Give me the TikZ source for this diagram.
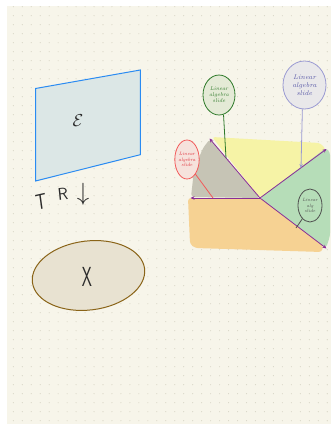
\documentclass[tikz,border=0pt]{standalone}
\usetikzlibrary{shapes.geometric,arrows.meta}
\definecolor{bg}{HTML}{F7F5EA}
\definecolor{dotc}{HTML}{D6D3C3}
\definecolor{paneblue}{HTML}{DCE7E6}
\definecolor{paneedge}{HTML}{2A8BF2}
\definecolor{ellfill}{HTML}{E8E2D1}
\definecolor{elledge}{HTML}{8A6418}
\definecolor{ink}{HTML}{2B2B2B}
\definecolor{orangep}{HTML}{F6D293}
\definecolor{grayp}{HTML}{C6C4B5}
\definecolor{yellowp}{HTML}{F6F3A6}
\definecolor{greenp}{HTML}{B6DDB8}
\definecolor{purp}{HTML}{8A2E96}
\definecolor{gdark}{HTML}{2F7A2A}
\definecolor{gfill}{HTML}{E4EAD6}
\definecolor{lav}{HTML}{9A9AD2}
\definecolor{lavtext}{HTML}{5A5AA8}
\definecolor{lavfill}{HTML}{E9E8EA}
\definecolor{redc}{HTML}{F25A5A}
\definecolor{redtext}{HTML}{E0303A}
\definecolor{redfill}{HTML}{F6E2DC}
\definecolor{kgrey}{HTML}{505050}
\tikzset{
  patch/.style={rounded corners=3pt},
  purparrow/.style={draw=purp, line width=0.8pt, -{Stealth[length=4pt,width=3.5pt]}},
  lbl/.style={ellipse, line width=0.8pt, inner sep=0pt, align=center,
              font=\fontsize{5.5}{6}\selectfont\itshape},
  hand/.style={text=ink, font=\sffamily},
}
\begin{document}
\begin{tikzpicture}[x=1pt,y=-1pt]
\useasboundingbox (0,0) rectangle (331,424);
\fill[white] (0,0) rectangle (331,424);
\fill[bg] (7,6) rectangle (331,424);
\foreach \i in {0,...,35}{
  \foreach \j in {0,...,46}{
    \fill[dotc] (13.3+8.97*\i, 6.7+9*\j) circle (0.55);
  }
}
% blue pane
\draw[draw=paneedge, fill=paneblue, line width=1pt] (35.5,88.5) -- (140.3,70) -- (140.3,154.7) -- (35.5,181) -- cycle;
\node[text=ink, font=\fontsize{19}{21}\selectfont] (E) at (78,121) {$\mathcal{E}$};
% T R arrow
\node[hand, font=\sffamily\fontsize{19}{21}\selectfont, xscale=0.9, yscale=1.15, rotate=10] (T) at (41,201.5) {T};
\node[hand, font=\sffamily\fontsize{17}{19}\selectfont, rotate=6] (R) at (63,194) {R};
\node[text=ink, font=\fontsize{30}{32}\selectfont] (D) at (83,194) {$\downarrow$};
% ellipse X
\node[ellipse, draw=elledge, fill=ellfill, line width=1pt, minimum width=113, minimum height=69, rotate=7] (X) at (88.5,275.5) {};
\node[hand, font=\sffamily\fontsize{19}{21}\selectfont, xscale=0.85, yscale=1.45] (Xt) at (87,277) {X};
% coloured patches
\fill[orangep, patch] (188,198) -- (260,198) -- (323,245) -- (322,252) -- (195,248) -- (190,244) -- cycle;
\fill[grayp, patch] (210,139) -- (260,198) -- (191,197) -- (194,170) -- (203,148) -- cycle;
\fill[yellowp, patch] (212,137) -- (320,143) -- (326,149) -- (260,198) -- cycle;
\fill[greenp, patch] (260,198) -- (326,148) -- (330,152) -- (330,236) -- (326,248) -- cycle;
% purple arrows
\coordinate (C) at (260,198);
\coordinate (P1) at (209.5,138.5);
\coordinate (P2) at (190.5,198);
\coordinate (P3) at (326.5,149);
\coordinate (P4) at (326.5,248.5);
\draw[purparrow] (C) -- (P1);
\draw[purparrow] (C) -- (P2);
\draw[purparrow] (C) -- (P3);
\draw[purparrow] (C) -- (P4);
% labels
\node[lbl, draw=gdark, fill=gfill, text=gdark, minimum width=32, minimum height=40] (g) at (219,95) {Linear\\algebra\\slide};
\coordinate (gEnd) at (226,158);
\draw[gdark, line width=0.8pt] (g.283) -- (gEnd);
\node[lbl, draw=lav, fill=lavfill, text=lavtext, minimum width=43, minimum height=48, font=\fontsize{6.8}{8}\selectfont\itshape] (l) at (304.5,85) {Linear\\algebra\\slide};
\coordinate (lEnd) at (301,168);
\draw[lav, line width=0.8pt, -{Stealth[length=4pt,width=3.5pt]}] (l.265) -- (lEnd);
\node[lbl, draw=redc, fill=redfill, text=redtext, minimum width=24, minimum height=39, font=\fontsize{4.8}{5.6}\selectfont\itshape] (r) at (187,159.5) {Linear\\algebra\\slide};
\coordinate (rEnd) at (213,198);
\draw[redc, line width=0.8pt] (r.300) -- (rEnd);
\node[lbl, draw=kgrey, text=kgrey, minimum width=24, minimum height=33, font=\fontsize{4.6}{5.2}\selectfont\itshape] (k) at (310,205.5) {Linear\\alg\\slide};
\coordinate (kEnd) at (296,228);
\draw[kgrey, line width=0.8pt] (k.240) -- (kEnd);
\end{tikzpicture}
\end{document}
